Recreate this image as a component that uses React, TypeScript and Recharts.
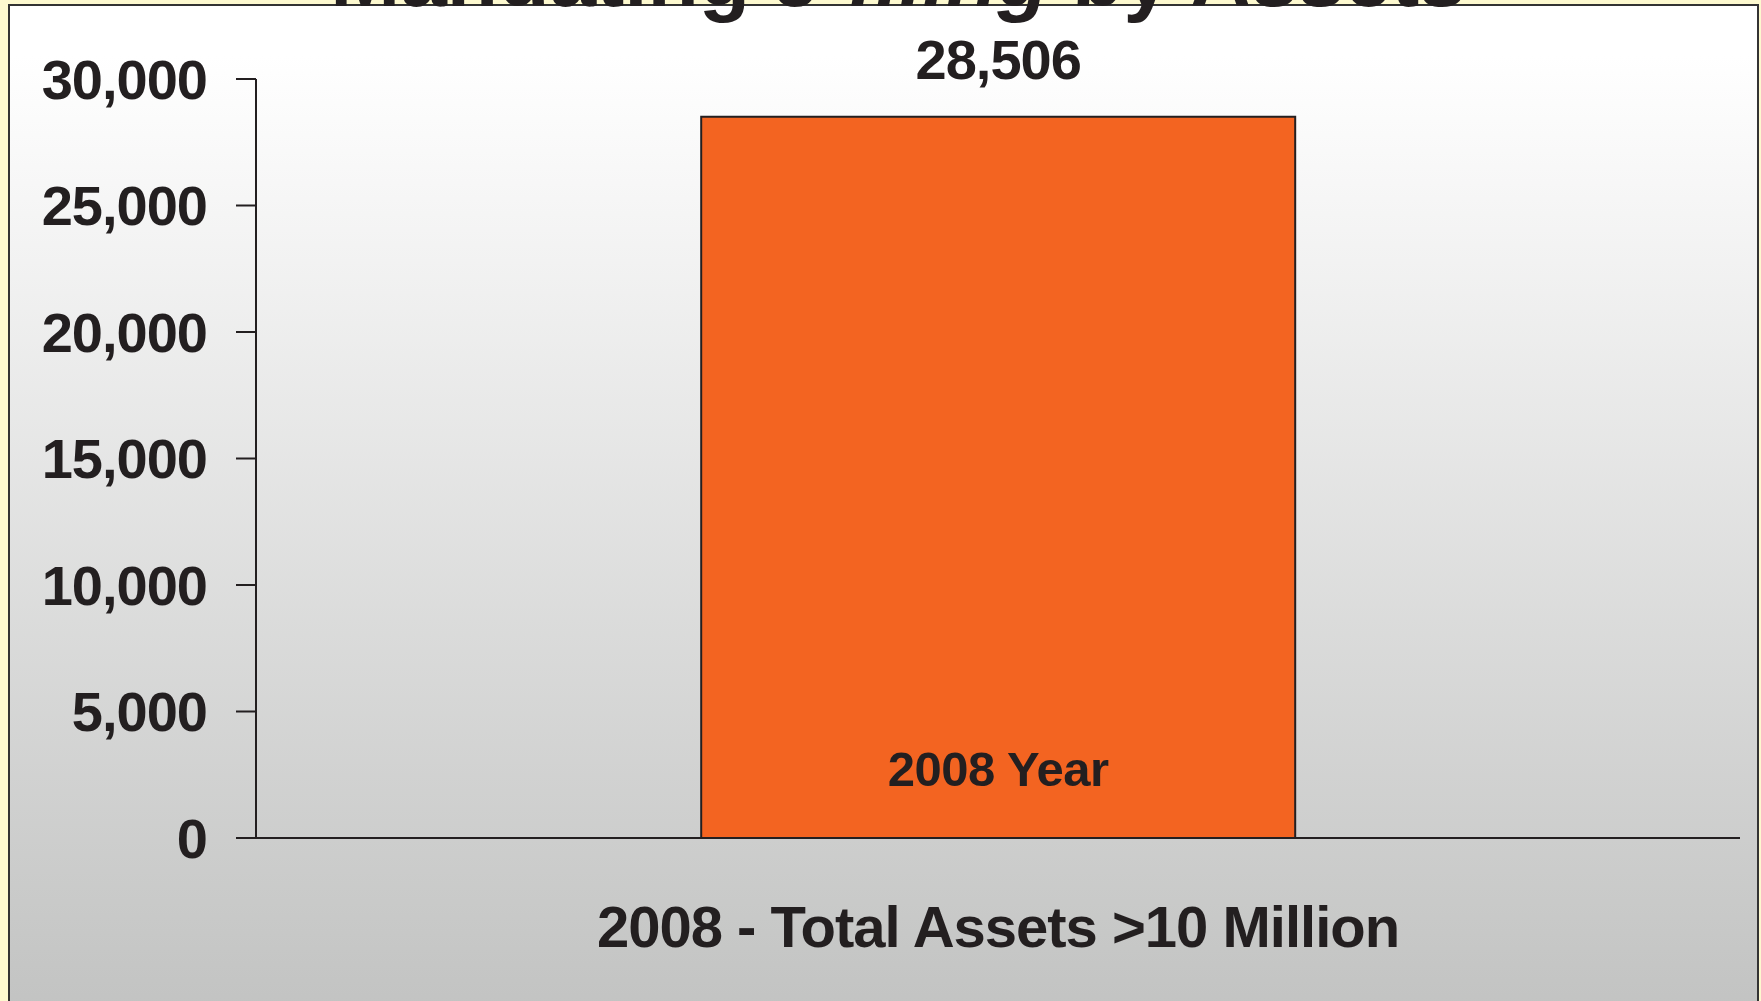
import React from 'react'
import { BarChart, Bar, XAxis, YAxis, LabelList } from 'recharts'

// valeurs
const categories = ['2008 - Total Assets >10 Million']
const seriesName = '2008 Year'
const filings = [28506]
const yTicks = [0, 5000, 10000, 15000, 20000, 25000, 30000]

const data = categories.map((name, i) => ({ name, filings: filings[i], series: seriesName }))

const ink = '#231f20'
const font = '"Liberation Sans", Arial, sans-serif'
const fmt = (v: number) => v.toLocaleString('en-US')

export default function App() {
  return (
    <div style={{ position: 'fixed', left: 0, top: 0, width: 1761, height: 1001, overflow: 'hidden', background: '#fdf9cf', fontFamily: font }}>
      {/* panneau avec dégradé */}
      <div
        style={{
          position: 'absolute',
          left: 8,
          top: 4,
          width: 1751,
          height: 1010,
          boxSizing: 'border-box',
          border: '2px solid #333',
          background: 'linear-gradient(to bottom, #ffffff 0%, #ffffff 5%, #c2c3c2 100%)',
        }}
      />

      <div style={{ position: 'absolute', left: 0, top: 0 }}>
        <BarChart width={1761} height={1001} data={data} margin={{ top: 79, right: 21, left: 0, bottom: 0 }} barCategoryGap="30%">
          <XAxis
            dataKey="name"
            height={163}
            axisLine={{ stroke: ink, strokeWidth: 2 }}
            tickLine={false}
            tickSize={0}
            tickMargin={68}
            tick={{ fill: ink, fontSize: 58, fontWeight: 700, fontFamily: font, letterSpacing: -1 }}
          />
          <YAxis
            width={256}
            domain={[0, 30000]}
            ticks={yTicks}
            tickFormatter={fmt}
            axisLine={{ stroke: ink, strokeWidth: 2 }}
            tickLine={{ stroke: ink, strokeWidth: 2 }}
            tickSize={20}
            tickMargin={29}
            tick={{ fill: ink, fontSize: 56, fontWeight: 700, fontFamily: font, letterSpacing: -1 }}
          />
          <Bar dataKey="filings" fill="#f36421" stroke={ink} strokeWidth={2} isAnimationActive={false}>
            <LabelList
              dataKey="filings"
              position="top"
              offset={38}
              formatter={(v: any) => fmt(Number(v))}
              style={{ fill: ink, fontSize: 56, fontWeight: 700, fontFamily: font, letterSpacing: -1 }}
            />
            <LabelList
              dataKey="series"
              position="insideBottom"
              offset={52}
              style={{ fill: ink, fontSize: 49, fontWeight: 700, fontFamily: font, letterSpacing: -0.5 }}
            />
          </Bar>
        </BarChart>
      </div>

      {/* titre coupé en haut de l'image, comme sur l'original */}
      <svg width={1761} height={60} style={{ position: 'absolute', left: 0, top: 0 }}>
        <text x={898} y={6} textAnchor="middle" fontFamily={font} fontWeight={700} fontSize={84} fill={ink}>
          Mandating <tspan fontStyle="italic">e-filing</tspan> by Assets
        </text>
      </svg>
    </div>
  )
}
